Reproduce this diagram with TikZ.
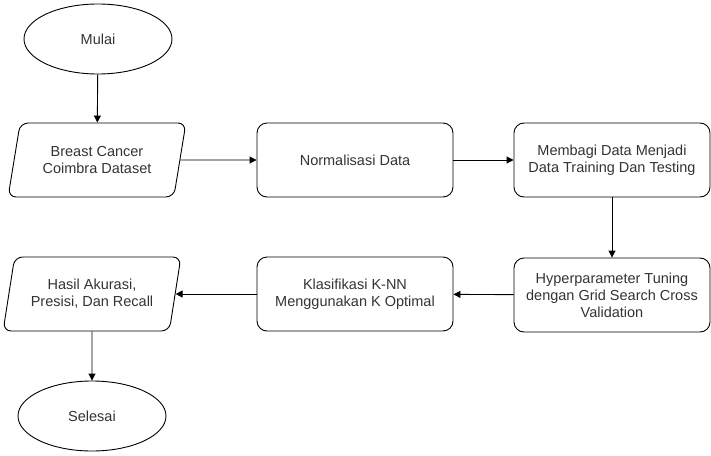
\documentclass[tikz,border=0pt]{standalone}
\usepackage{fontspec}
\setmainfont{Liberation Sans}
\usetikzlibrary{shapes.geometric,arrows.meta}

\begin{document}
\begin{tikzpicture}[x=1pt,y=-1pt]
	\tikzset{every node/.style={align=center,font=\fontsize{14.5}{17}\selectfont,text=black!80}}
	\tikzset{terminal/.style={draw,ellipse,line width=0.9pt,minimum width=148pt,minimum height=70pt}}
	\tikzset{process/.style={draw,rectangle,rounded corners=10pt,line width=0.9pt,minimum width=196pt,minimum height=74pt}}
	\tikzset{io/.style={draw,trapezium,trapezium left angle=75,trapezium right angle=105,trapezium stretches=true,rounded corners=8pt,line width=0.9pt,minimum width=178pt,minimum height=74pt}}
	\tikzset{flow/.style={-{Triangle[length=7pt,width=7pt]},line width=0.9pt}}
	\useasboundingbox (0,0) rectangle (711,455);
	% first row
	\node[terminal] (mulai) at (98,39) {Mulai};
	\node[io] (dataset) at (97,160) {Breast Cancer\\Coimbra Dataset};
	\node[process] (normal) at (355,160) {Normalisasi Data};
	\node[process] (split) at (612,160) {Membagi Data Menjadi\\Data Training Dan Testing};
	% second row
	\node[process] (tuning) at (612,295) {Hyperparameter Tuning\\dengan Grid Search Cross\\Validation};
	\node[process] (knn) at (355,294) {Klasifikasi K-NN\\Menggunakan K Optimal};
	\node[io] (hasil) at (92,294) {Hasil Akurasi,\\Presisi, Dan Recall};
	\node[terminal] (selesai) at (92,416) {Selesai};
	% connectors
	\draw[flow] (mulai) -- (dataset);
	\draw[flow] (dataset.east) -- (normal);
	\draw[flow] (normal) -- (split);
	\draw[flow] (split) -- (tuning);
	\draw[flow] (tuning) -- (knn);
	\draw[flow] (knn) -- (hasil.east);
	\draw[flow] (hasil) -- (selesai);
\end{tikzpicture}
\end{document}
